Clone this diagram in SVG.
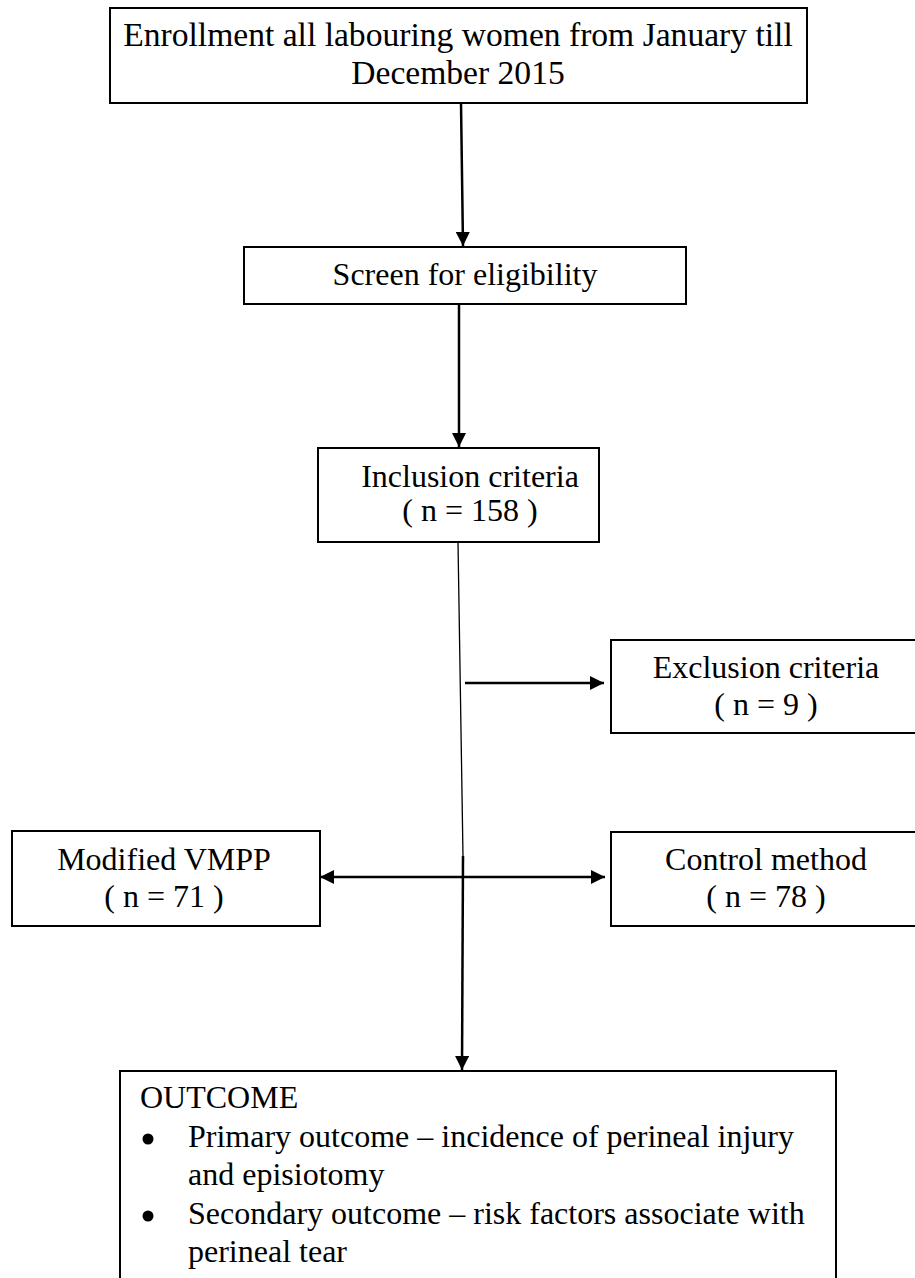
<svg xmlns="http://www.w3.org/2000/svg" width="915" height="1278" viewBox="0 0 915 1278">
<style>
.box{fill:#fff;stroke:#000;stroke-width:2}
.t{font-family:"Liberation Serif","Times New Roman",serif;font-size:32px;fill:#000}
.big{font-size:33.6px}
.c{text-anchor:middle}
.ln{stroke:#000;stroke-width:2.5;fill:none}
.thin{stroke:#000;stroke-width:1.3;fill:none}
</style>
<defs>
<marker id="ah" markerWidth="14" markerHeight="14" refX="14" refY="7" orient="auto" markerUnits="userSpaceOnUse">
<path d="M0,0 L14,7 L0,14 Z" fill="#000"/>
</marker>
<marker id="ahs" markerWidth="14" markerHeight="14" refX="0" refY="7" orient="auto" markerUnits="userSpaceOnUse">
<path d="M14,0 L0,7 L14,14 Z" fill="#000"/>
</marker>
</defs>
<g id="connectors">
<line class="ln" x1="461" y1="103" x2="463" y2="246" marker-end="url(#ah)"/>
<line class="ln" x1="459" y1="304" x2="459" y2="447" marker-end="url(#ah)"/>
<line class="thin" x1="458" y1="542" x2="463" y2="856"/>
<line class="ln" x1="463" y1="856" x2="462" y2="1070" marker-end="url(#ah)"/>
<line class="ln" x1="465" y1="683" x2="604" y2="683" marker-end="url(#ah)"/>
<line class="ln" x1="320" y1="877" x2="605" y2="877" marker-start="url(#ahs)" marker-end="url(#ah)"/>
</g>
<g id="enrollment">
<rect class="box" x="110" y="8" width="697" height="95"/>
<text class="t big c" x="458" y="46">Enrollment all labouring women from January till</text>
<text class="t big c" x="458" y="84">December 2015</text>
</g>
<g id="screen">
<rect class="box" x="244" y="247" width="442" height="57"/>
<text class="t c" x="465" y="285">Screen for eligibility</text>
</g>
<g id="inclusion">
<rect class="box" x="318" y="448" width="281" height="94"/>
<text class="t c" x="470" y="487">Inclusion criteria</text>
<text class="t c" x="470" y="521">( n = 158 )</text>
</g>
<g id="exclusion">
<rect class="box" x="611" y="640" width="306" height="93"/>
<text class="t c" x="766" y="678">Exclusion criteria</text>
<text class="t c" x="766" y="715">( n = 9 )</text>
</g>
<g id="vmpp">
<rect class="box" x="12" y="831" width="308" height="95"/>
<text class="t c" x="164" y="870">Modified VMPP</text>
<text class="t c" x="164" y="907">( n =  71 )</text>
</g>
<g id="control">
<rect class="box" x="611" y="832" width="306" height="94"/>
<text class="t c" x="766" y="870">Control method</text>
<text class="t c" x="766" y="907">( n = 78 )</text>
</g>
<g id="outcome">
<path class="box" d="M120,1280 V1071 H836 V1280"/>
<text class="t" x="140" y="1108">OUTCOME</text>
<circle cx="148" cy="1139" r="5.5" fill="#000"/>
<text class="t" x="188" y="1147">Primary outcome – incidence of perineal injury</text>
<text class="t" x="188" y="1185">and episiotomy</text>
<circle cx="148" cy="1216" r="5.5" fill="#000"/>
<text class="t" x="188" y="1224">Secondary outcome – risk factors associate with</text>
<text class="t" x="188" y="1262">perineal tear</text>
</g>
</svg>
